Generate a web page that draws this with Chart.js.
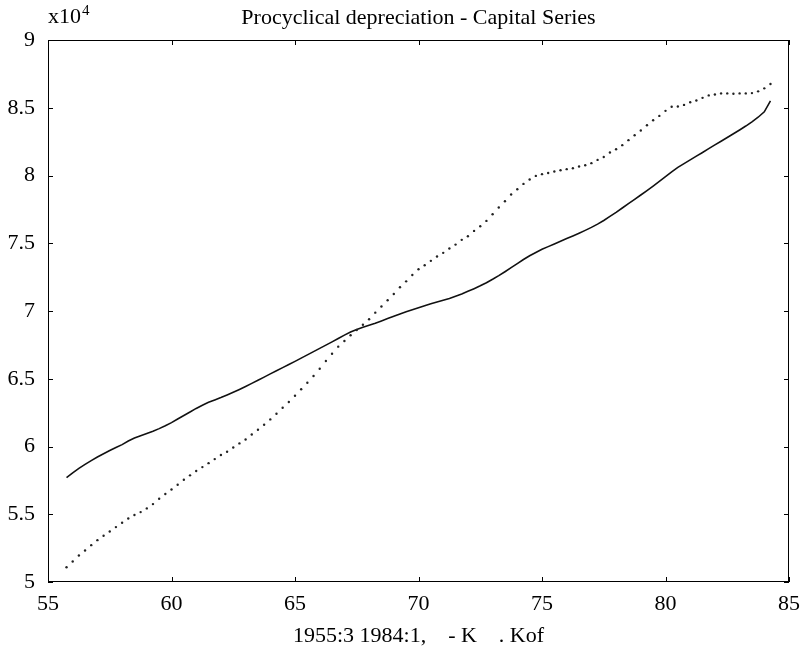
<!DOCTYPE html>
<html>
<head>
<meta charset="utf-8">
<script src="https://cdn.jsdelivr.net/npm/chart.js@4"></script>
<style>
  html, body { margin: 0; padding: 0; background: #fff; }
  #wrap { width: 803px; height: 664px; }
</style>
</head>
<body>
<div id="wrap"><canvas id="c" width="803" height="664"></canvas></div>
<script>
// Period 1955:3 .. 1984:1, quarterly (x = year + quarter/4, two-digit years)
const startYear = 55, startQuarter = 3, endYear = 84, endQuarter = 1;
const titleText = 'Procyclical depreciation - Capital Series';
const captionText = '1955:3 1984:1,    - K    . Kof';
const scaleNote = 'x10';
const scaleExp = '4';
const xTickLabels = ['55', '60', '65', '70', '75', '80', '85'];
const yTickLabels = ['5', '5.5', '6', '6.5', '7', '7.5', '8', '8.5', '9'];

// K (solid line), units of 10^4
const seriesK = [
  5.770, 5.805, 5.838, 5.868, 5.896, 5.922, 5.946, 5.970, 5.992, 6.014,
  6.040, 6.062, 6.080, 6.096, 6.113, 6.132, 6.153, 6.176, 6.203, 6.229,
  6.255, 6.281, 6.305, 6.326, 6.344, 6.361, 6.380, 6.400, 6.421, 6.443,
  6.466, 6.489, 6.512, 6.536, 6.559, 6.582, 6.605, 6.628, 6.652, 6.676,
  6.700, 6.724, 6.748, 6.772, 6.797, 6.822, 6.845, 6.864, 6.880, 6.895,
  6.910, 6.927, 6.944, 6.961, 6.978, 6.994, 7.009, 7.024, 7.039, 7.053,
  7.066, 7.079, 7.093, 7.109, 7.126, 7.145, 7.165, 7.186, 7.209, 7.234,
  7.261, 7.290, 7.320, 7.350, 7.380, 7.408, 7.432, 7.455, 7.475, 7.495,
  7.515, 7.535, 7.554, 7.574, 7.595, 7.617, 7.641, 7.668, 7.698, 7.728,
  7.760, 7.792, 7.824, 7.856, 7.889, 7.922, 7.956, 7.991, 8.027, 8.060,
  8.088, 8.115, 8.143, 8.170, 8.198, 8.226, 8.253, 8.280, 8.308, 8.336,
  8.365, 8.396, 8.430, 8.470, 8.550
];

// Kof (dotted), units of 10^4
const seriesKof = [
  5.109, 5.151, 5.196, 5.233, 5.272, 5.309, 5.341, 5.373, 5.405, 5.437,
  5.469, 5.494, 5.516, 5.543, 5.575, 5.614, 5.649, 5.683, 5.718, 5.755,
  5.787, 5.819, 5.848, 5.877, 5.907, 5.937, 5.961, 5.993, 6.023, 6.052,
  6.089, 6.124, 6.161, 6.200, 6.242, 6.286, 6.328, 6.375, 6.423, 6.471,
  6.520, 6.574, 6.631, 6.685, 6.737, 6.779, 6.821, 6.860, 6.899, 6.939,
  6.988, 7.033, 7.079, 7.126, 7.175, 7.219, 7.266, 7.308, 7.338, 7.370,
  7.402, 7.429, 7.461, 7.490, 7.525, 7.552, 7.591, 7.626, 7.665, 7.714,
  7.764, 7.810, 7.860, 7.899, 7.938, 7.970, 7.997, 8.010, 8.019, 8.030,
  8.039, 8.047, 8.054, 8.066, 8.076, 8.091, 8.115, 8.137, 8.170, 8.194,
  8.224, 8.261, 8.297, 8.332, 8.371, 8.408, 8.440, 8.477, 8.507, 8.509,
  8.521, 8.541, 8.554, 8.573, 8.591, 8.598, 8.606, 8.606, 8.603, 8.606,
  8.606, 8.608, 8.621, 8.643, 8.675
];

// quarterly time positions
const quarters = [];
for (let yr = startYear, q = startQuarter; yr < endYear || (yr === endYear && q <= endQuarter); ) {
  quarters.push(yr + q / 4);
  q++; if (q > 4) { q = 1; yr++; }
}

const FONT = '"Liberation Serif", "Times New Roman", serif';

const framePlugin = {
  id: 'frame',
  afterDatasetsDraw(chart) {
    const { ctx, chartArea: a, scales: { x, y } } = chart;
    ctx.save();
    ctx.strokeStyle = '#000';
    ctx.lineWidth = 1;
    ctx.strokeRect(a.left + 0.5, a.top + 0.5, a.right - a.left - 1, a.bottom - a.top - 1);
    const tl = 5;
    ctx.beginPath();
    x.ticks.forEach(t => {
      const px = Math.round(x.getPixelForValue(t.value)) + 0.5;
      ctx.moveTo(px, a.bottom); ctx.lineTo(px, a.bottom - tl);
      ctx.moveTo(px, a.top); ctx.lineTo(px, a.top + tl);
    });
    y.ticks.forEach(t => {
      const py = Math.round(y.getPixelForValue(t.value)) + 0.5;
      ctx.moveTo(a.left, py); ctx.lineTo(a.left + tl, py);
      ctx.moveTo(a.right, py); ctx.lineTo(a.right - tl, py);
    });
    ctx.stroke();
    // exponent note
    ctx.fillStyle = '#000';
    ctx.textBaseline = 'alphabetic';
    ctx.textAlign = 'left';
    ctx.font = '22px ' + FONT;
    ctx.fillText(scaleNote, a.left, 23);
    const w = ctx.measureText(scaleNote).width;
    ctx.font = '15px ' + FONT;
    ctx.fillText(scaleExp, a.left + w + 1, 15);
    ctx.restore();
  }
};

new Chart(document.getElementById('c'), {
  type: 'scatter',
  data: {
    datasets: [
      {
        label: 'K',
        data: quarters.map((q, i) => ({ x: q, y: seriesK[i] })),
        showLine: true,
        borderColor: '#111',
        borderWidth: 1.6,
        pointRadius: 0,
        tension: 0,
        order: 2
      },
      {
        label: 'Kof',
        data: quarters.map((q, i) => ({ x: q, y: seriesKof[i] })),
        showLine: false,
        pointRadius: 1.2,
        pointBorderWidth: 0,
        pointBackgroundColor: '#222',
        order: 1
      }
    ]
  },
  options: {
    responsive: false,
    animation: false,
    devicePixelRatio: 1,
    layout: { padding: { left: 0, right: 14, top: 0, bottom: 0 } },
    plugins: {
      legend: { display: false },
      tooltip: { enabled: false },
      title: {
        display: true,
        text: titleText,
        fullSize: false,
        color: '#000',
        font: { family: FONT, size: 22, weight: 'normal' },
        padding: { top: 5, bottom: 8.6 }
      }
    },
    scales: {
      x: {
        type: 'linear',
        min: 55, max: 85,
        grid: { display: false },
        border: { display: false },
        ticks: {
          stepSize: 5,
          color: '#000',
          font: { family: FONT, size: 22 },
          padding: 1,
          maxRotation: 0,
          callback: (v) => xTickLabels[Math.round((v - 55) / 5)]
        },
        title: {
          display: true,
          text: captionText,
          color: '#000',
          font: { family: FONT, size: 22 },
          padding: { top: 0, bottom: 15 }
        },
        afterFit: (s) => { s.height = 82; }
      },
      y: {
        type: 'linear',
        min: 5, max: 9,
        grid: { display: false },
        border: { display: false },
        ticks: {
          stepSize: 0.5,
          color: '#000',
          font: { family: FONT, size: 22 },
          padding: 5,
          callback: (v) => yTickLabels[Math.round((v - 5) / 0.5)]
        },
        afterFit: (s) => { s.width = 48; }
      }
    }
  },
  plugins: [framePlugin]
});
</script>
</body>
</html>
